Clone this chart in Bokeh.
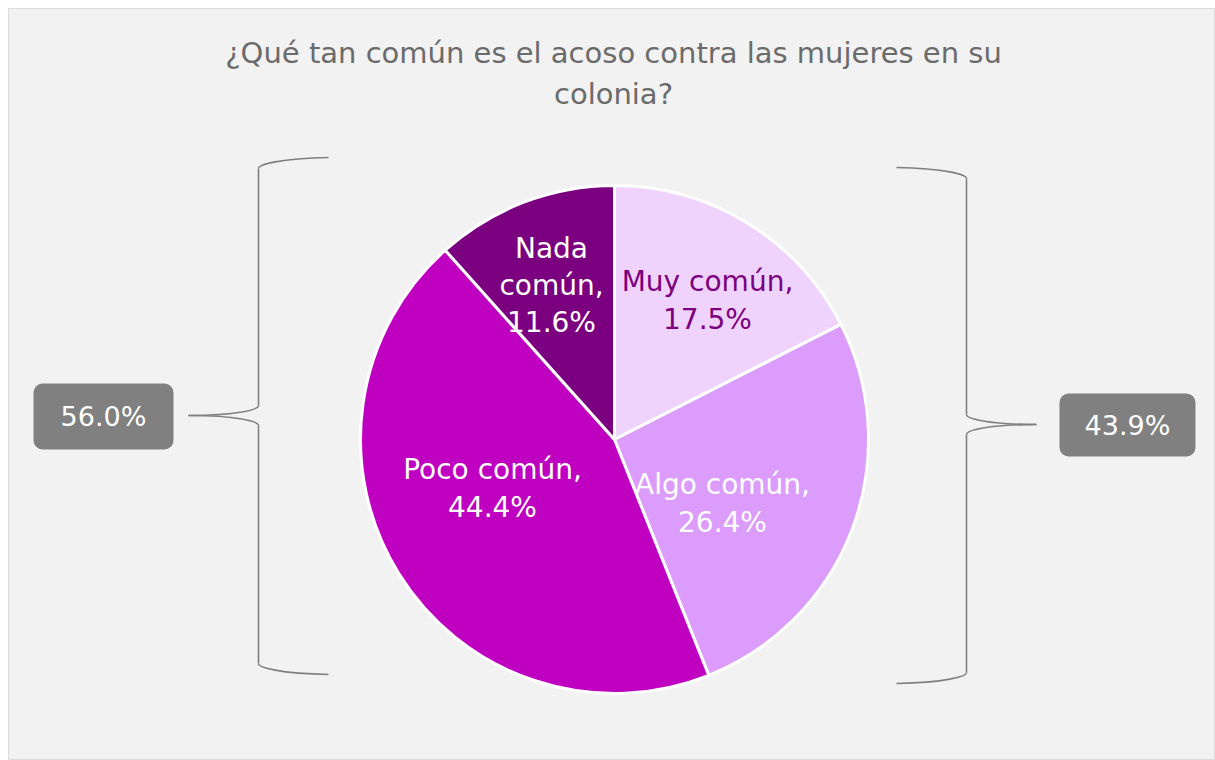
import math
from bokeh.plotting import figure
from bokeh.models import Range1d, ColumnDataSource
from bokeh.core.properties import value
from bokeh.embed import file_html
from bokeh.resources import INLINE

# ---- data ----
categories = ["Muy común", "Algo común", "Poco común", "Nada común"]
values = [17.5, 26.4, 44.4, 11.6]
slice_colors = ["#efd3fd", "#dc9cfc", "#c000c0", "#7b0080"]
label_colors = ["#7b0080", "#ffffff", "#ffffff", "#ffffff"]
group_labels = ["43.9%", "56.0%"]
title_text = "¿Qué tan común es el acoso contra las mujeres en su\ncolonia?"

W, H = 1215, 760
OFF = 8
FW, FH = W - OFF, H - OFF
FONT = "DejaVu Sans"

def sx(x):
    return x - OFF

def sy(y):
    return H - y

p = figure(width=W, height=H, output_backend="svg", toolbar_location=None,
           x_range=Range1d(0, FW), y_range=Range1d(0, FH),
           x_axis_location=None, y_axis_location=None,
           min_border_left=OFF, min_border_top=OFF, min_border_right=0, min_border_bottom=0)
p.grid.visible = False
p.background_fill_color = "#f2f2f2"
p.border_fill_color = "#ffffff"
p.outline_line_color = "#dcdcdc"

# ---- pie ----
cx, cy, r = sx(614), sy(439), 254
total = sum(values)
starts, ends = [], []
acc = 0.0
for v in values:
    a0 = math.pi / 2 - 2 * math.pi * acc / total
    acc += v
    a1 = math.pi / 2 - 2 * math.pi * acc / total
    starts.append(a1)
    ends.append(a0)
src = ColumnDataSource(dict(start=starts, end=ends, color=slice_colors, cat=categories, val=values))
p.wedge(x=cx, y=cy, radius=r, start_angle="start", end_angle="end", source=src,
        fill_color="color", line_color="white", line_width=3)

# ---- slice labels ----
lab_pos = [(707, 300), (722, 503), (492, 488), (551, 285)]
texts = []
for c, v in zip(categories, values):
    if c == "Nada común":
        texts.append("Nada\ncomún,\n%.1f%%" % v)
    else:
        texts.append("%s,\n%.1f%%" % (c, v))
lsrc = ColumnDataSource(dict(x=[sx(a) for a, b in lab_pos], y=[sy(b) for a, b in lab_pos],
                             t=texts, c=label_colors))
p.text(x="x", y="y", text="t", text_color="c", source=lsrc, text_align="center",
       text_baseline="middle", text_font=value(FONT), text_font_size="28px",
       text_line_height=1.13)

# ---- title ----
p.text(x=[sx(613)], y=[sy(73)], text=[title_text], text_align="center", text_baseline="middle",
       text_font=value(FONT), text_font_size="29px", text_color="#6b6b6b", text_line_height=1.18)

# ---- brackets ----
def draw_brace(xv, xo, xtip, y_end_top, y_top, y_mid, y_bot, y_end_bot):
    lc, lw = "#808080", 1.6
    d = 10
    p.bezier(x0=[sx(xo)], y0=[sy(y_end_top)], x1=[sx(xv)], y1=[sy(y_top)],
             cx0=[sx(xv + (xo - xv) * 0.3)], cy0=[sy(y_end_top + 1)],
             cx1=[sx(xv)], cy1=[sy(y_top - 4)], line_color=lc, line_width=lw)
    p.line(x=[sx(xv), sx(xv)], y=[sy(y_top), sy(y_mid - d)], line_color=lc, line_width=lw)
    p.bezier(x0=[sx(xv), sx(xv)], y0=[sy(y_mid - d), sy(y_mid + d)], x1=[sx(xtip), sx(xtip)], y1=[sy(y_mid), sy(y_mid)],
             cx0=[sx(xv), sx(xv)], cy0=[sy(y_mid - d + 4), sy(y_mid + d - 4)],
             cx1=[sx(xv + (xtip - xv) * 0.3), sx(xv + (xtip - xv) * 0.3)], cy1=[sy(y_mid), sy(y_mid)],
             line_color=lc, line_width=lw)
    p.line(x=[sx(xv), sx(xv)], y=[sy(y_mid + d), sy(y_bot)], line_color=lc, line_width=lw)
    p.bezier(x0=[sx(xv)], y0=[sy(y_bot)], x1=[sx(xo)], y1=[sy(y_end_bot)],
             cx0=[sx(xv)], cy0=[sy(y_bot + 4)],
             cx1=[sx(xv + (xo - xv) * 0.3)], cy1=[sy(y_end_bot - 1)], line_color=lc, line_width=lw)

draw_brace(258, 328, 188, 157, 168, 415, 663, 674)
draw_brace(966, 896, 1036, 167, 178, 424, 672, 683)

# ---- group boxes ----
boxes = [(1059, 1195, 393, 456), (33, 173, 383, 449)]
bsrc = ColumnDataSource(dict(left=[sx(b[0]) for b in boxes], right=[sx(b[1]) for b in boxes],
                             top=[sy(b[2]) for b in boxes], bottom=[sy(b[3]) for b in boxes],
                             x=[sx((b[0] + b[1]) / 2) for b in boxes], y=[sy((b[2] + b[3]) / 2) for b in boxes],
                             t=group_labels))
try:
    p.quad(left="left", right="right", top="top", bottom="bottom", source=bsrc,
           fill_color="#808080", line_color=None, border_radius=9)
except Exception:
    p.quad(left="left", right="right", top="top", bottom="bottom", source=bsrc,
           fill_color="#808080", line_color=None)
p.text(x="x", y="y", text="t", source=bsrc, text_align="center", text_baseline="middle",
       text_font=value(FONT), text_font_size="27px", text_color="white")

open("out.html", "w").write(file_html(p, INLINE))
